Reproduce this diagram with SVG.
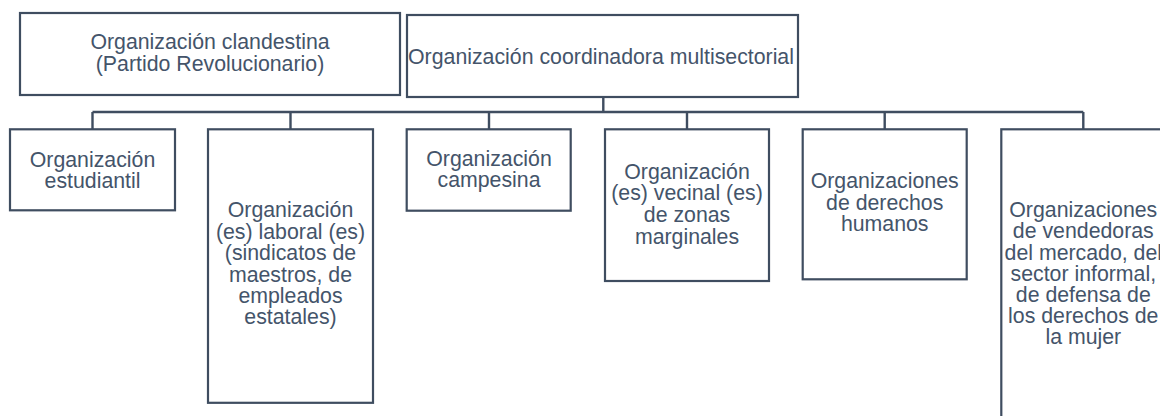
<svg xmlns="http://www.w3.org/2000/svg" width="1160" height="416" viewBox="0 0 1160 416">
<style>
.box{fill:#ffffff;stroke:#3f4d60;stroke-width:2.2}
.con{fill:none;stroke:#3f4d60;stroke-width:2.4}
text{font-family:"Liberation Sans",Arial,sans-serif;font-size:21.3px;fill:#44546a;text-anchor:middle}
</style>
<rect width="1160" height="416" fill="#ffffff"/>
<g id="connectors">
<path class="con" d="M603.3,97 V112 M92.5,112 H1083.3 M92.5,112 V129.3 M290.5,112 V129.3 M489,112 V129.3 M687,112 V129.3 M884.7,112 V129.3 M1083.3,112 V129.3"/>
</g>
<g id="n-clandestina">
<rect class="box" x="20" y="13" width="380" height="82"/>
<text x="210" y="49.3">Organización clandestina</text>
<text x="210" y="70.7">(Partido Revolucionario)</text>
</g>
<g id="n-coordinadora">
<rect class="box" x="407" y="15" width="391" height="82"/>
<text x="601" y="64">Organización coordinadora multisectorial</text>
</g>
<g id="n-estudiantil">
<rect class="box" x="10" y="129.3" width="165" height="81"/>
<text x="92.5" y="166.5">Organización</text>
<text x="92.5" y="187.6">estudiantil</text>
</g>
<g id="n-laboral">
<rect class="box" x="208" y="129.3" width="165" height="273.5"/>
<text x="290.5" y="217.3">Organización</text>
<text x="290.5" y="238.7">(es) laboral (es)</text>
<text x="290.5" y="260.1">(sindicatos de</text>
<text x="290.5" y="281.5">maestros, de</text>
<text x="290.5" y="302.9">empleados</text>
<text x="290.5" y="324.3">estatales)</text>
</g>
<g id="n-campesina">
<rect class="box" x="406.7" y="129.3" width="164" height="81.4"/>
<text x="489" y="165.5">Organización</text>
<text x="489" y="186.7">campesina</text>
</g>
<g id="n-vecinal">
<rect class="box" x="605" y="129.3" width="164" height="151.7"/>
<text x="687" y="178.6">Organización</text>
<text x="687" y="200.4">(es) vecinal (es)</text>
<text x="687" y="222.2">de zonas</text>
<text x="687" y="244">marginales</text>
</g>
<g id="n-derechos">
<rect class="box" x="802.7" y="129.3" width="164" height="150"/>
<text x="884.7" y="188.3">Organizaciones</text>
<text x="884.7" y="209.8">de derechos</text>
<text x="884.7" y="231.3">humanos</text>
</g>
<g id="n-vendedoras">
<rect class="box" x="1001.3" y="129.3" width="164" height="290"/>
<text x="1083.3" y="217.2">Organizaciones</text>
<text x="1083.3" y="238.4">de vendedoras</text>
<text x="1083.3" y="259.6">del mercado, del</text>
<text x="1083.3" y="280.8">sector informal,</text>
<text x="1083.3" y="302">de defensa de</text>
<text x="1083.3" y="323.2">los derechos de</text>
<text x="1083.3" y="344.4">la mujer</text>
</g>
</svg>
